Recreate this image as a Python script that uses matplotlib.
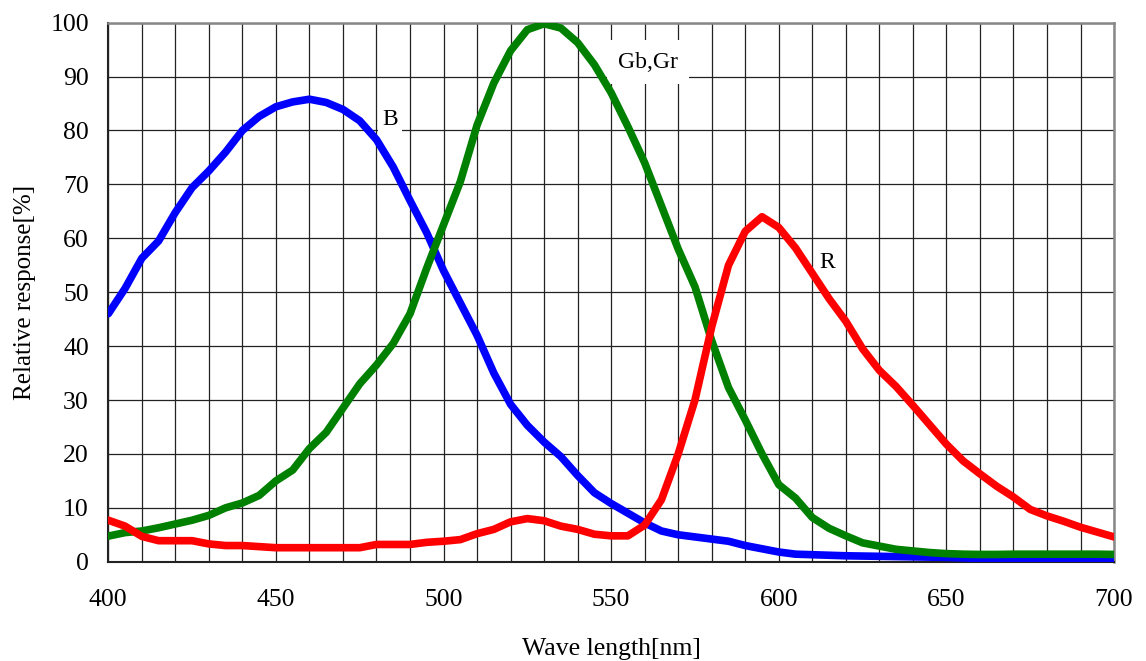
import matplotlib
matplotlib.use("Agg")
import matplotlib.pyplot as plt
import numpy as np

wl = [400, 405, 410, 415, 420, 425, 430, 435, 440, 445, 450, 455, 460, 465, 470,
      475, 480, 485, 490, 495, 500, 505, 510, 515, 520, 525, 530, 535, 540, 545,
      550, 555, 560, 565, 570, 575, 580, 585, 590, 595, 600, 605, 610, 615, 620,
      625, 630, 635, 640, 645, 650, 655, 660, 665, 670, 675, 680, 685, 690, 695, 700]

blue = [46, 50.7, 56.3, 59.5, 64.8, 69.4, 72.5, 76, 80, 82.6, 84.4, 85.3, 85.8, 85.2, 83.9,
        81.8, 78.3, 73.2, 67, 61, 54, 48, 42, 35, 29.2, 25.3, 22.2, 19.5, 16, 12.8,
        10.8, 9, 7.2, 5.7, 5, 4.6, 4.2, 3.8, 3, 2.4, 1.8, 1.4, 1.3, 1.2, 1.1,
        1.05, 1.0, 0.95, 0.9, 0.85, 0.8, 0.7, 0.6, 0.55, 0.5, 0.45, 0.4, 0.38, 0.35, 0.32, 0.3]

green = [4.75, 5.4, 5.7, 6.3, 7.0, 7.7, 8.6, 10.0, 10.9, 12.3, 15, 17, 21, 24, 28.5,
         33, 36.5, 40.5, 46, 54.5, 62.5, 70.5, 81, 88.8, 94.8, 98.7, 99.8, 99, 96.3, 92.2,
         87, 80.7, 74, 66, 58, 51, 41, 32.3, 26.3, 20, 14.3, 11.8, 8.2, 6.2, 4.8,
         3.5, 2.9, 2.3, 2.0, 1.7, 1.5, 1.4, 1.35, 1.35, 1.4, 1.4, 1.4, 1.4, 1.4, 1.4, 1.35]

red = [7.7, 6.6, 4.7, 3.9, 3.9, 3.9, 3.3, 3.0, 3.0, 2.8, 2.6, 2.6, 2.6, 2.6, 2.6,
       2.6, 3.2, 3.2, 3.2, 3.6, 3.8, 4.1, 5.2, 6.0, 7.4, 8.0, 7.6, 6.6, 6.0, 5.1,
       4.8, 4.8, 6.8, 11.5, 20, 30, 43.6, 55, 61.3, 64, 62, 58.2, 53.5, 48.8, 44.6,
       39.5, 35.5, 32.5, 29, 25.4, 21.8, 18.7, 16.3, 14, 12, 9.7, 8.5, 7.5, 6.4, 5.5, 4.6]

x_ticks = [400, 450, 500, 550, 600, 650, 700]
y_ticks = [0, 10, 20, 30, 40, 50, 60, 70, 80, 90, 100]

plt.rcParams['font.family'] = ['Liberation Serif', 'DejaVu Serif']

fig = plt.figure(figsize=(11.46, 6.61), dpi=100)
ax = fig.add_axes([0.0945, 0.1502, 0.8776, 0.8155])

ax.set_xlim(400, 700)
ax.set_ylim(0, 100)
ax.set_xticks(np.arange(400, 701, 10), minor=True)
ax.set_xticks(x_ticks)
ax.set_yticks(y_ticks)
ax.grid(True, which='both', axis='x', color='#222222', lw=0.9)
ax.grid(True, which='major', axis='y', color='#222222', lw=0.9)
ax.set_axisbelow(True)

kw = dict(lw=5.5, solid_capstyle='round', solid_joinstyle='round', zorder=3)
ax.plot(wl, blue, color='#0000ff', **kw)
ax.plot(wl, green, color='#008000', **kw)
ax.plot(wl, red, color='#ff0000', **kw)

bbox = dict(facecolor='white', edgecolor='none', pad=3)
ax.text(484, 82, 'B', fontsize=17, ha='center', va='center', bbox=bbox, zorder=2)
ax.text(561, 92.7, 'Gb,Gr', fontsize=17, ha='center', va='center',
        bbox=dict(facecolor='white', edgecolor='none', pad=8), zorder=2)
ax.text(614.6, 55.5, 'R', fontsize=17, ha='center', va='center', bbox=bbox, zorder=2)

for s in ['left', 'bottom']:
    ax.spines[s].set_color('#222222')
    ax.spines[s].set_linewidth(1.5)
for s in ['top', 'right']:
    ax.spines[s].set_color('#888888')
    ax.spines[s].set_linewidth(1.8)

ax.tick_params(which='both', length=0)
ax.tick_params(axis='x', labelsize=18.5, pad=20)
ax.tick_params(axis='y', labelsize=18.5, pad=14)

ax.set_xlabel('Wave length[nm]', fontsize=18.5, labelpad=19)
ax.set_ylabel('Relative response[%]', fontsize=18, labelpad=10)

fig.savefig('out.png', dpi=100)
